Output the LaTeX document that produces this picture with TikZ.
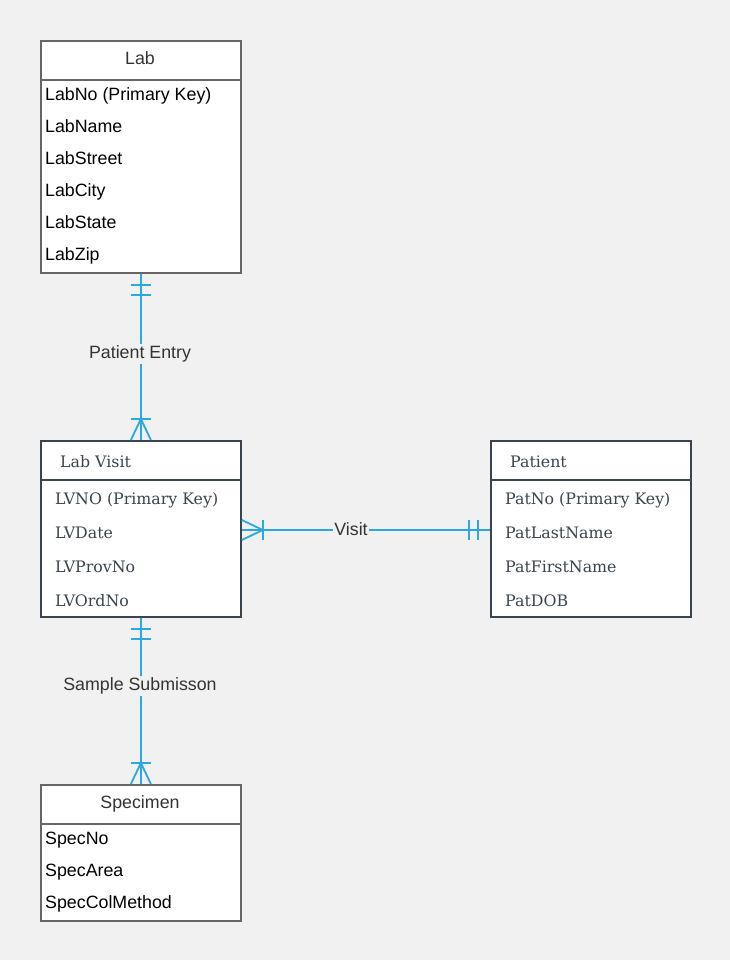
\documentclass[tikz,border=0pt]{standalone}
\usepackage{fontspec}
\setmainfont{Liberation Sans}
\newfontfamily\slabfont{DejaVu Serif}
\usetikzlibrary{calc}
\definecolor{bgc}{HTML}{F1F1F1}
\definecolor{conn}{HTML}{2AA8E0}
\definecolor{graybd}{HTML}{666666}
\definecolor{darkbd}{HTML}{3A4450}
\definecolor{txt}{HTML}{333333}
\tikzset{
  x=1pt, y=-1pt,
  ent/.style={draw, fill=white, line width=1.8pt, inner sep=0pt, anchor=north west, minimum width=200pt},
  grayent/.style={ent, draw=graybd},
  darkent/.style={ent, draw=darkbd},
  hdr/.style={text=txt, font=\fontsize{17.8}{20}\selectfont, inner sep=0pt, text height=12.7pt, text depth=0pt, yshift=-0.3pt},
  shdr/.style={text=darkbd, font=\slabfont\fontsize{15.8}{18}\selectfont, inner sep=0pt, anchor=west, text height=11.5pt, text depth=0pt},
  attr/.style={text=black, font=\fontsize{17.8}{20}\selectfont, inner sep=0pt, anchor=west, text height=12.7pt, text depth=0pt},
  sattr/.style={text=darkbd, font=\slabfont\fontsize{15.8}{18}\selectfont, inner sep=0pt, anchor=west, text height=11.5pt, text depth=0pt},
  rel/.style={draw=conn, line width=1.8pt},
  rlabel/.style={fill=bgc, text=txt, font=\fontsize{17.8}{20}\selectfont, inner sep=2pt},
}
\begin{document}
\begin{tikzpicture}
\fill[bgc] (0,0) rectangle (730,960);
\useasboundingbox (0,0) rectangle (730,960);

% Lab
\node[grayent, minimum height=232pt] (lab) at (40,40) {};
\draw[graybd, line width=1.8pt] ([yshift=-40pt]lab.north west) -- ([yshift=-40pt]lab.north east);
\node[hdr] (labh) at (140,58) {Lab};
\node[attr] (lab1) at (45,94) {LabNo (Primary Key)};
\node[attr] (lab2) at (45,126) {LabName};
\node[attr] (lab3) at (45,158) {LabStreet};
\node[attr] (lab4) at (45,190) {LabCity};
\node[attr] (lab5) at (45,222) {LabState};
\node[attr] (lab6) at (45,254) {LabZip};

% Lab Visit
\node[darkent, minimum height=176pt] (lv) at (40,440) {};
\draw[darkbd, line width=1.8pt] ([yshift=-40pt]lv.north west) -- ([yshift=-40pt]lv.north east);
\node[shdr] (lvh) at (60,462) {Lab Visit};
\node[sattr] (lv1) at (55,499) {LVNO (Primary Key)};
\node[sattr] (lv2) at (55,533) {LVDate};
\node[sattr] (lv3) at (55,567) {LVProvNo};
\node[sattr] (lv4) at (55,601) {LVOrdNo};

% Patient
\node[darkent, minimum height=176pt] (pat) at (490,440) {};
\draw[darkbd, line width=1.8pt] ([yshift=-40pt]pat.north west) -- ([yshift=-40pt]pat.north east);
\node[shdr] (path) at (510,462) {Patient};
\node[sattr] (pat1) at (505,499) {PatNo (Primary Key)};
\node[sattr] (pat2) at (505,533) {PatLastName};
\node[sattr] (pat3) at (505,567) {PatFirstName};
\node[sattr] (pat4) at (505,601) {PatDOB};

% Specimen
\node[grayent, minimum height=136pt] (spec) at (40,784) {};
\draw[graybd, line width=1.8pt] ([yshift=-40pt]spec.north west) -- ([yshift=-40pt]spec.north east);
\node[hdr] (spech) at (140,802) {Specimen};
\node[attr] (spec1) at (45,838) {SpecNo};
\node[attr] (spec2) at (45,870) {SpecArea};
\node[attr] (spec3) at (45,902) {SpecColMethod};

% Lab -- Lab Visit
\draw[rel] (lab.south) -- (lv.north);
\draw[rel] ($(lab.south)+(-10,11)$) -- ($(lab.south)+(10,11)$);
\draw[rel] ($(lab.south)+(-10,21)$) -- ($(lab.south)+(10,21)$);
\draw[rel] ($(lv.north)+(-10,-21)$) -- ($(lv.north)+(10,-21)$);
\draw[rel] ($(lv.north)+(0,-21)$) -- ($(lv.north)+(-10,0)$);
\draw[rel] ($(lv.north)+(0,-21)$) -- ($(lv.north)+(10,0)$);
\node[rlabel] (pe) at (140,354) {Patient Entry};

% Lab Visit -- Patient
\coordinate (vy) at (0,530);
\coordinate (va) at (lv.east |- vy);
\coordinate (vb) at (pat.west |- vy);
\draw[rel] (va) -- (vb);
\draw[rel] ($(va)+(21,-10)$) -- ($(va)+(21,10)$);
\draw[rel] ($(va)+(21,0)$) -- ($(va)+(0,-10)$);
\draw[rel] ($(va)+(21,0)$) -- ($(va)+(0,10)$);
\draw[rel] ($(vb)+(-21,-10)$) -- ($(vb)+(-21,10)$);
\draw[rel] ($(vb)+(-12,-10)$) -- ($(vb)+(-12,10)$);
\node[rlabel, inner sep=1pt] (vis) at (351,529) {Visit};

% Lab Visit -- Specimen
\draw[rel] (lv.south) -- (spec.north);
\draw[rel] ($(lv.south)+(-10,11)$) -- ($(lv.south)+(10,11)$);
\draw[rel] ($(lv.south)+(-10,21)$) -- ($(lv.south)+(10,21)$);
\draw[rel] ($(spec.north)+(-10,-21)$) -- ($(spec.north)+(10,-21)$);
\draw[rel] ($(spec.north)+(0,-21)$) -- ($(spec.north)+(-10,0)$);
\draw[rel] ($(spec.north)+(0,-21)$) -- ($(spec.north)+(10,0)$);
\node[rlabel] (ss) at (140,686) {Sample Submisson};
\end{tikzpicture}
\end{document}
